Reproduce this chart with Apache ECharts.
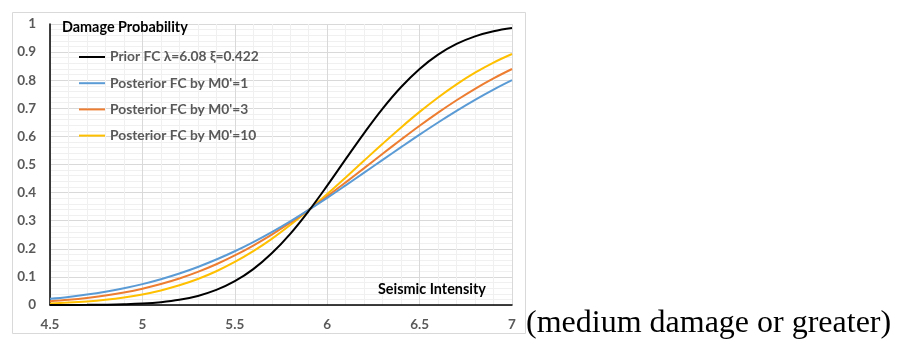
<!DOCTYPE html>
<html><head><meta charset="utf-8">
<script src="https://cdn.jsdelivr.net/npm/echarts@6/dist/echarts.min.js"></script>
<style>html,body{margin:0;padding:0;background:#fff}#c{width:900px;height:341px}</style>
</head><body><div id="c"></div>
<script>
const xs = [4.5,4.6,4.7,4.8,4.9,5.0,5.1,5.2,5.3,5.4,5.5,5.6,5.7,5.8,5.9,6.0,6.1,6.2,6.3,6.4,6.5,6.6,6.7,6.8,6.9,7.0];
const prior = [0.0001,0.0002,0.0005,0.0012,0.0026,0.0052,0.0101,0.0185,0.0323,0.0536,0.0847,0.1277,0.1841,0.2534,0.3348,0.4247,0.5189,0.6119,0.6990,0.7758,0.8402,0.8911,0.9291,0.9560,0.9740,0.9854];
const postM1 = [0.0219,0.0286,0.0370,0.0472,0.0595,0.0743,0.0917,0.1120,0.1353,0.1618,0.1913,0.2240,0.2596,0.2979,0.3387,0.3814,0.4258,0.4709,0.5164,0.5617,0.6063,0.6495,0.6908,0.7300,0.7664,0.7999];
const postM3 = [0.0135,0.0186,0.0253,0.0339,0.0447,0.0581,0.0746,0.0944,0.1178,0.1450,0.1764,0.2116,0.2505,0.2929,0.3384,0.3866,0.4364,0.4872,0.5382,0.5887,0.6379,0.6847,0.7287,0.7695,0.8065,0.8399];
const postM10 = [0.0057,0.0086,0.0128,0.0188,0.0269,0.0377,0.0519,0.0700,0.0926,0.1202,0.1532,0.1916,0.2355,0.2846,0.3380,0.3947,0.4538,0.5140,0.5738,0.6319,0.6872,0.7386,0.7853,0.8267,0.8626,0.8931];
const seriesNames = ["Prior FC λ=6.08 ξ=0.422","Posterior FC by M0'=1","Posterior FC by M0'=3","Posterior FC by M0'=10"];
const seriesColors = ["#000000","#5B9BD5","#ED7D31","#FFC000"];
const seriesValues = [prior, postM1, postM3, postM10];
const yTitle = "Damage Probability";
const xTitle = "Seismic Intensity";
const note = "(medium damage or greater)";

const FONT = "Lato, 'Open Sans', sans-serif";
const chart = echarts.init(document.getElementById('c'));
chart.setOption({
  animation: false,
  backgroundColor: '#ffffff',
  grid: {left: 50, right: 388, top: 24, bottom: 36},
  legend: {
    orient: 'vertical', left: 79, top: 50, padding: 0, itemWidth: 26, itemHeight: 14, itemGap: 12.2,
    icon: 'path://M0,0 L26,0 L26,2 L0,2 Z',
    data: seriesNames,
    textStyle: {color: '#595959', fontWeight: 'bold', fontSize: 13.8, fontFamily: FONT}
  },
  xAxis: {
    type: 'value', min: 4.5, max: 7, interval: 0.5,
    axisLine: {show: true, onZero: false, lineStyle: {color: '#000', width: 1.5}},
    axisTick: {show: false},
    axisLabel: {color: '#595959', fontWeight: 'bold', fontSize: 13.5, fontFamily: FONT, margin: 13},
    splitLine: {show: true, lineStyle: {color: '#d9d9d9', width: 1}},
    minorTick: {show: false, splitNumber: 5},
    minorSplitLine: {show: true, lineStyle: {color: '#f0f0f0', width: 1}}
  },
  yAxis: {
    type: 'value', min: 0, max: 1, interval: 0.1,
    axisLine: {show: true, lineStyle: {color: '#000', width: 1.5}},
    axisTick: {show: false},
    axisLabel: {color: '#595959', fontWeight: 'bold', fontSize: 13.5, fontFamily: FONT, margin: 14,
      formatter: v => String(Math.round(v*10)/10)},
    splitLine: {show: true, lineStyle: {color: '#d9d9d9', width: 1}},
    minorTick: {show: false, splitNumber: 5},
    minorSplitLine: {show: true, lineStyle: {color: '#f0f0f0', width: 1}}
  },
  series: seriesValues.map((vals, i) => ({
    name: seriesNames[i], type: 'line', symbol: 'none', smooth: 0.4,
    itemStyle: {color: seriesColors[i]},
    lineStyle: {color: seriesColors[i], width: 2},
    data: xs.map((x, j) => [x, vals[j]]),
    z: 10 - i
  })),
  graphic: [
    {type: 'rect', z: -1, shape: {x: 12.5, y: 12.5, width: 513, height: 321}, style: {fill: 'none', stroke: '#d9d9d9', lineWidth: 1}, silent: true},
    {type: 'text', z: 100, x: 62, y: 27, style: {text: yTitle, fill: '#000', font: 'bold 14.4px ' + FONT, verticalAlign: 'middle'}},
    {type: 'text', z: 100, x: 378, y: 289, style: {text: xTitle, fill: '#000', font: 'bold 14.4px ' + FONT, verticalAlign: 'middle'}},
    {type: 'text', z: 100, x: 526, y: 324, style: {text: note, fill: '#000', font: "32px 'Liberation Serif', 'Times New Roman', serif", verticalAlign: 'middle'}}
  ]
});
</script></body></html>
